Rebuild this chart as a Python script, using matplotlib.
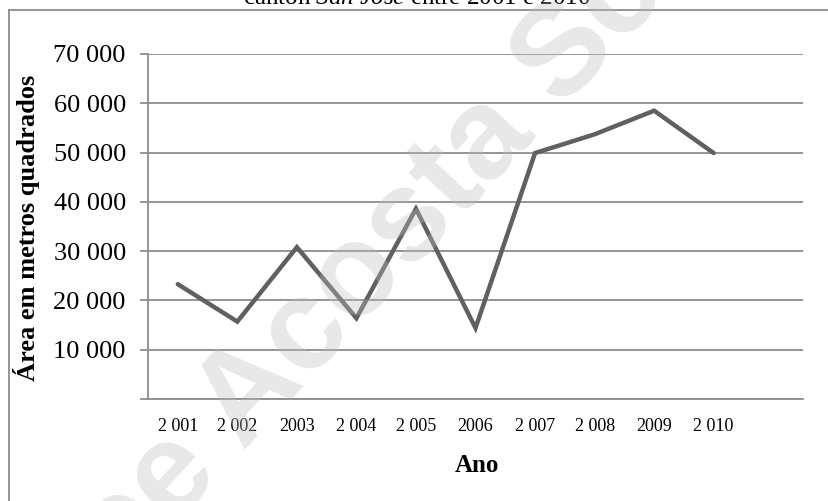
import matplotlib
matplotlib.use("Agg")
import matplotlib.pyplot as plt
from matplotlib.lines import Line2D

plt.rcParams['font.family'] = ['Liberation Serif', 'DejaVu Serif']
plt.rcParams['mathtext.fontset'] = 'custom'
plt.rcParams['mathtext.rm'] = 'Liberation Serif'
plt.rcParams['mathtext.it'] = 'Liberation Serif:italic'

# dados
anos = ["2 001", "2 002", "2003", "2 004", "2 005", "2006", "2 007", "2 008", "2009", "2 010"]
area = [23300, 15700, 30800, 16400, 38600, 14400, 49900, 53700, 58500, 49900]
y_ticks = [10000, 20000, 30000, 40000, 50000, 60000, 70000]

W, H = 829, 501
fig = plt.figure(figsize=(W / 100, H / 100), dpi=100)
ax = fig.add_axes([148 / W, 1 - 399 / H, (803 - 148) / W, (399 - 54) / H])

grid_c = "#8c8c8c"
x = list(range(len(anos)))
ax.plot(x, area, color="#606060", lw=3.2, solid_joinstyle="miter", solid_capstyle="round", zorder=3)

# 11 categorias (a ultima vazia), como no Excel
ax.set_xlim(-0.5, len(anos) + 0.5)
ax.set_ylim(0, 70000)
ax.set_yticks([0] + y_ticks)
ax.set_yticklabels([""] + [f"{v:,}".replace(",", " ") for v in y_ticks])
ax.yaxis.grid(True, color=grid_c, lw=1.3)
ax.set_xticks(x)
ax.set_xticklabels(anos)

for s in ["top", "right"]:
    ax.spines[s].set_visible(False)
for s in ["left", "bottom"]:
    ax.spines[s].set_color(grid_c)
    ax.spines[s].set_linewidth(1.3)
ax.tick_params(axis="y", length=6, width=1.3, color=grid_c, labelsize=19, pad=10)
ax.tick_params(axis="x", length=0, labelsize=13, pad=14)

# rotulos dos eixos
fig.text(27 / W, 1 - 228 / H, "Área em metros quadrados", fontsize=19, fontweight="bold",
         rotation=90, ha="center", va="center")
fig.text(477 / W, 1 - 465 / H, "Ano", fontsize=18, fontweight="bold", ha="center", va="center")

# titulo cortado no topo
fig.text(417 / W, 1 - 4 / H, r"cantón $San\ José$ entre 2001 e 2010", fontsize=18,
         ha="center", va="baseline")

# moldura do grafico
fig.add_artist(Line2D([9 / W, 1], [1 - 10 / H, 1 - 10 / H], color=grid_c, lw=1.3, transform=fig.transFigure))
fig.add_artist(Line2D([9 / W, 9 / W], [1 - 10 / H, 0], color=grid_c, lw=1.3, transform=fig.transFigure))

# marca d'agua
fig.text(372 / W, 1 - 264 / H, "ee Acosta Sc", fontsize=93, fontweight="bold", family="Liberation Sans",
         color="#bdbdbd", alpha=0.35, rotation=47, ha="center", va="center", zorder=10)

fig.savefig("out.png", dpi=100)
